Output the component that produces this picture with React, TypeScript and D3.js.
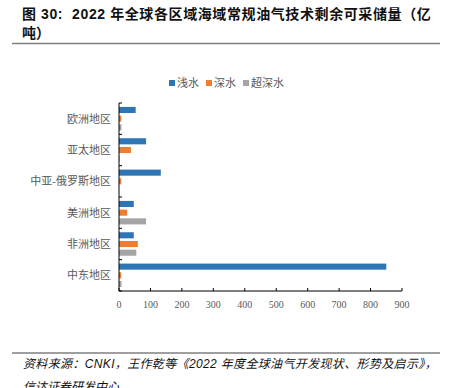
import React from "react";
import * as d3 from "d3";

const categories = ["欧洲地区", "亚太地区", "中亚-俄罗斯地区", "美洲地区", "非洲地区", "中东地区"];
const seriesNames = ["浅水", "深水", "超深水"];
const shallow = [53, 86, 133, 47, 47, 850];
const deep = [7, 38, 7, 26, 60, 7];
const ultraDeep = [8, 2, 0, 86, 55, 8];
const xTicks = [0, 100, 200, 300, 400, 500, 600, 700, 800, 900];
const colors = ["#2E75B6", "#ED7D31", "#A5A5A5"];

const W = 450;
const H = 388;
const left = 119;
const right = 402;
const top = 103;
const bottom = 291;

export default function App() {
  const series = [shallow, deep, ultraDeep];
  const x = d3.scaleLinear().domain([0, 900]).range([left, right]);
  const y = d3.scaleBand<string>().domain(categories).range([top, bottom]).paddingInner(0).paddingOuter(0);
  const inner = d3.scaleBand<number>().domain([0, 1, 2]).range([0, y.bandwidth()]).paddingInner(0.3).paddingOuter(0.45);
  const cjk = "'Noto Sans CJK SC', sans-serif";
  const serif = "'Liberation Serif', 'Noto Sans CJK SC', serif";
  const sans = "Arial, 'Liberation Sans', 'Noto Sans CJK SC', sans-serif";
  const legendX = [169, 206, 243];
  return (
    <svg width={W} height={H} style={{ position: "absolute", left: 0, top: 0, background: "#fff" }}>
      <text x={22} y={19} fontFamily={sans} fontWeight="bold" fontSize={14} letterSpacing={0.6} fill="#111" style={{ whiteSpace: "pre" }}>
        {"图 30:  2022 年全球各区域海域常规油气技术剩余可采储量（亿"}
      </text>
      <text x={22} y={38} fontFamily={cjk} fontWeight="bold" fontSize={14} fill="#111">吨）</text>
      <line x1={12} x2={440} y1={43.5} y2={43.5} stroke="#7f7f7f" strokeWidth={1.5} />

      {seriesNames.map((s, i) => (
        <g key={s}>
          <rect x={legendX[i]} y={80} width={6} height={6} fill={colors[i]} />
          <text x={legendX[i] + 8} y={87} fontFamily={cjk} fontSize={11} fill="#595959">{s}</text>
        </g>
      ))}

      {categories.map((c, ci) => (
        <g key={c}>
          {series.map((arr, si) => (
            <rect key={si} x={x(0)} y={(y(c) as number) + (inner(si) as number)} width={x(arr[ci]) - x(0)} height={inner.bandwidth()} fill={colors[si]} />
          ))}
          <text x={111} y={(y(c) as number) + y.bandwidth() / 2 + 4} textAnchor="end" fontFamily={serif} fontSize={11} fill="#595959">{c}</text>
        </g>
      ))}

      <line x1={left} x2={left} y1={top} y2={bottom} stroke="#000" strokeWidth={1} />
      {d3.range(categories.length + 1).map((i) => {
        const yy = top + i * y.step();
        return <line key={i} x1={left} x2={left + 3} y1={yy} y2={yy} stroke="#000" />;
      })}
      <line x1={left} x2={right} y1={bottom} y2={bottom} stroke="#000" strokeWidth={1} />
      {xTicks.map((t) => (
        <g key={t}>
          <line x1={x(t)} x2={x(t)} y1={bottom} y2={bottom - 3} stroke="#000" />
          <text x={x(t)} y={308} textAnchor="middle" fontFamily={serif} fontSize={10} fill="#595959">{t}</text>
        </g>
      ))}

      <line x1={12} x2={440} y1={353} y2={353} stroke="#7f7f7f" strokeWidth={1.5} />
      <text x={23} y={368} fontFamily={sans} fontStyle="italic" fontSize={12} letterSpacing={0.35} fill="#111">
        资料来源：CNKI，王作乾等《2022 年度全球油气开发现状、形势及启示》，
      </text>
      <text x={23} y={391} fontFamily={cjk} fontStyle="italic" fontSize={12} fill="#111">信达证券研发中心</text>
    </svg>
  );
}
